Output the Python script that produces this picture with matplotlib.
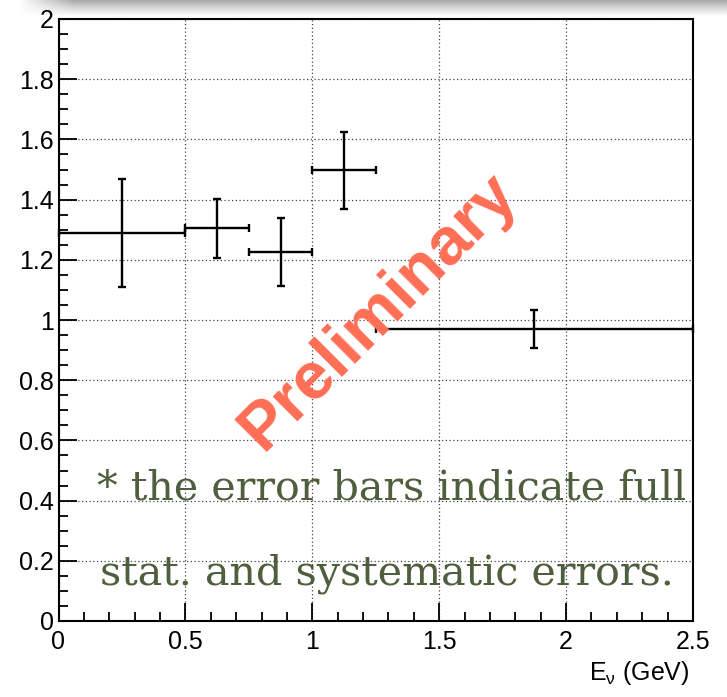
import numpy as np
import matplotlib
matplotlib.use("Agg")
import matplotlib.pyplot as plt
from matplotlib.ticker import MultipleLocator, FuncFormatter

# Measured points: bin centres, half-widths, values and total errors
x_center = [0.25, 0.625, 0.875, 1.125, 1.875]
x_halfwidth = [0.25, 0.125, 0.125, 0.125, 0.625]
y_value = [1.29, 1.305, 1.227, 1.497, 0.970]
y_error = [0.18, 0.098, 0.113, 0.128, 0.063]

x_ticks = [0, 0.5, 1, 1.5, 2, 2.5]
y_ticks = [0, 0.2, 0.4, 0.6, 0.8, 1, 1.2, 1.4, 1.6, 1.8, 2]

plt.rcParams["font.family"] = ["Liberation Sans", "DejaVu Sans"]
plt.rcParams["mathtext.fontset"] = "custom"
plt.rcParams["mathtext.rm"] = "Liberation Sans"
plt.rcParams["mathtext.it"] = "Liberation Sans:italic"

W, H = 727, 697
fig = plt.figure(figsize=(W / 100, H / 100), dpi=100)

# soft grey band along the top edge
band_h = 17
band = fig.add_axes([0, 1 - band_h / H, 1, band_h / H])
yy = np.linspace(0, 1, 40)[:, None]
xx = np.linspace(0, 1, 400)[None, :]
vert = (1 - yy) ** 1.2
horiz = np.clip((xx * W - 18) / 55, 0, 1)
alpha = 0.45 * vert * horiz
img = np.zeros((40, 400, 4))
img[..., 0:3] = 0.25
img[..., 3] = alpha
band.imshow(img, aspect="auto", extent=[0, 1, 0, 1], origin="upper")
band.axis("off")

ax = fig.add_axes([58.5 / W, (H - 621) / H, (693 - 58.5) / W, (621 - 19) / H])
ax.set_xlim(0, 2.5)
ax.set_ylim(0, 2)

ax.errorbar(x_center, y_value, xerr=x_halfwidth, yerr=y_error,
            fmt="none", ecolor="black", elinewidth=1.7, capsize=2.6,
            capthick=1.7, zorder=3, clip_on=False)

ax.set_xticks(x_ticks)
ax.set_yticks(y_ticks)
ax.xaxis.set_minor_locator(MultipleLocator(0.1))
ax.yaxis.set_minor_locator(MultipleLocator(0.05))


def fmt(v, _):
    return f"{v:g}"


ax.xaxis.set_major_formatter(FuncFormatter(fmt))
ax.yaxis.set_major_formatter(FuncFormatter(fmt))

ax.tick_params(axis="both", which="both", direction="in", color="black",
               width=1.3, labelsize=18)
ax.tick_params(axis="both", which="major", length=13)
ax.tick_params(axis="both", which="minor", length=6.5)
ax.tick_params(axis="x", which="major", pad=6.5)
ax.tick_params(axis="y", which="major", pad=3.5)
ax.tick_params(top=False, right=False, which="both")

for s in ax.spines.values():
    s.set_linewidth(1.5)
    s.set_color("black")

ax.grid(True, which="major", linestyle=(0, (1, 2)), color="#444444",
        linewidth=0.9)
ax.set_axisbelow(True)

fig.text(690 / W, (H - 680) / H, r"E$_{\mathrm{\nu}}$ (GeV)", fontsize=18,
         ha="right", va="baseline")

ax.text(1.262, 1.027, "Preliminary", rotation=45, rotation_mode="anchor",
        ha="center", va="center", fontsize=48, fontweight="bold",
        color="#FF6E55", zorder=4)

note_color = "#4F5E3D"
ax.text((97 - 58.5) / 634.5, (621 - 500) / 602,
        "* the error bars indicate full", transform=ax.transAxes,
        fontsize=29.7, family="DejaVu Serif", color=note_color,
        ha="left", va="baseline", zorder=5)
ax.text((100 - 58.5) / 634.5, (621 - 585) / 602,
        "stat. and systematic errors.", transform=ax.transAxes,
        fontsize=29.7, family="DejaVu Serif", color=note_color,
        ha="left", va="baseline", zorder=5)

fig.savefig("out.png", dpi=100)
